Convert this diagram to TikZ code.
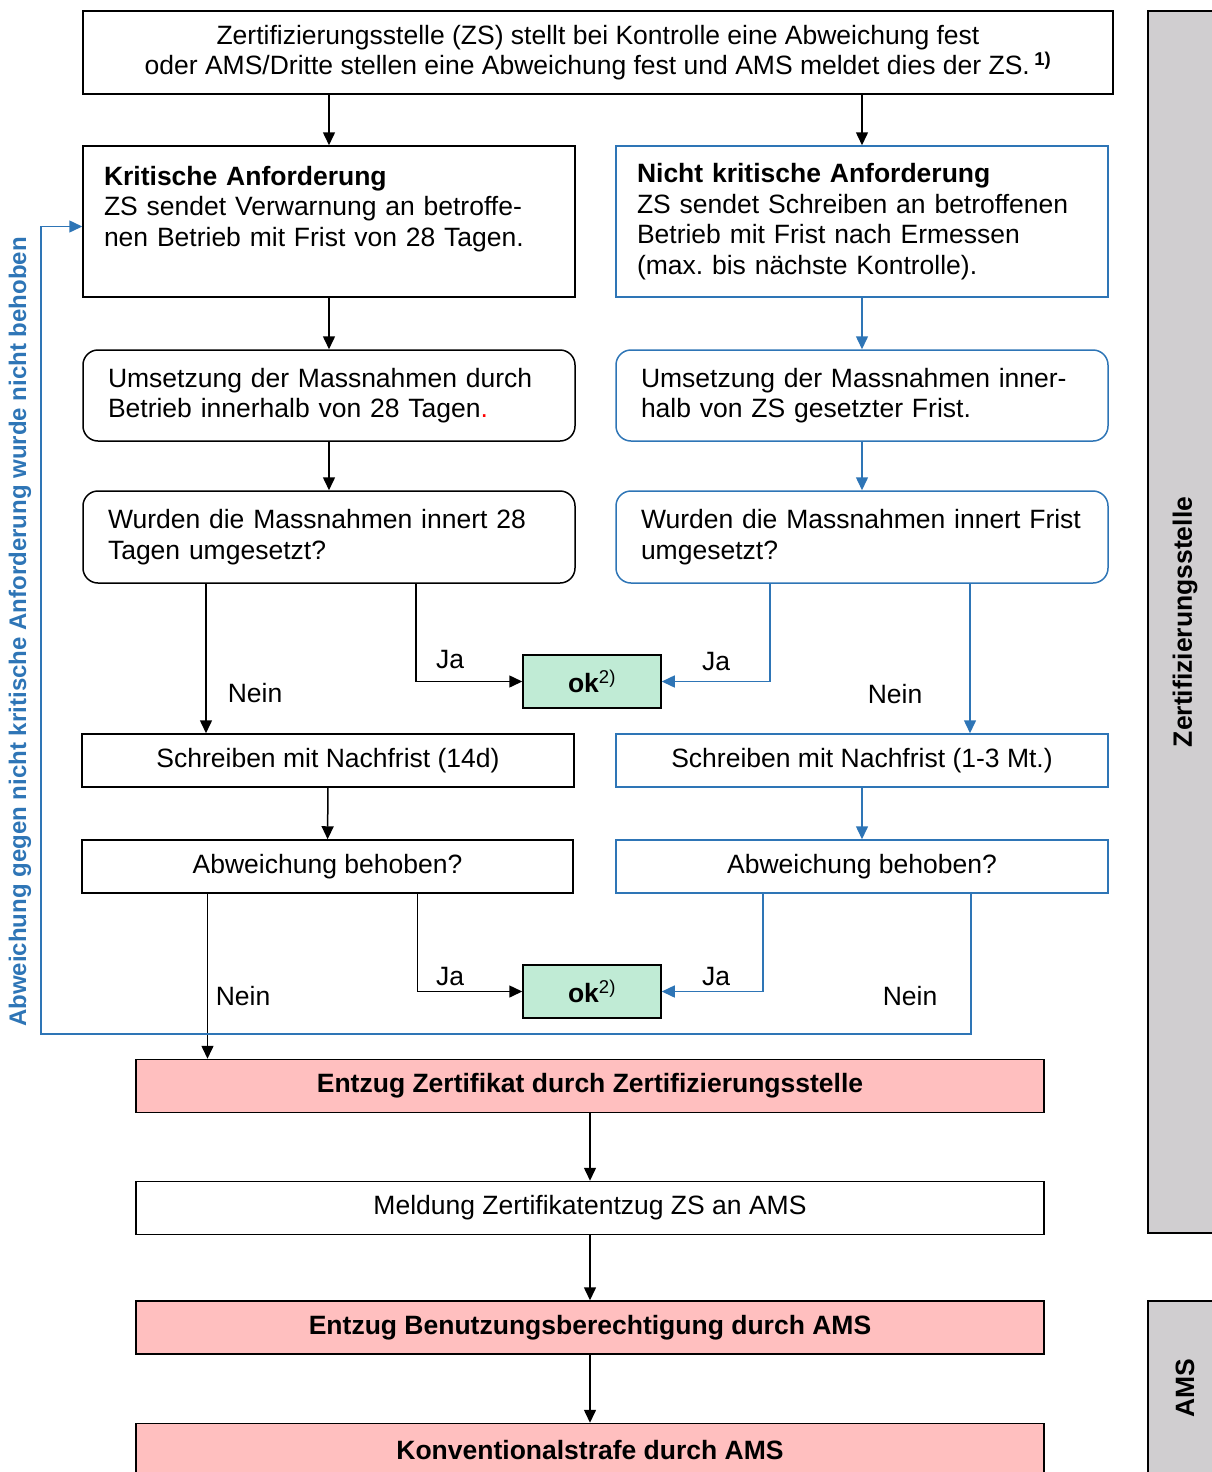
\documentclass[tikz,border=0pt]{standalone}
\usepackage{fontspec}
\setmainfont{Liberation Sans}
\usepackage{xcolor}
\usetikzlibrary{arrows.meta}
\definecolor{BlueZS}{HTML}{2E75B6}
\definecolor{GreenOK}{HTML}{C0EBD5}
\definecolor{RedAMS}{HTML}{FFBFBF}
\definecolor{GrayBar}{HTML}{D0CED0}
\newcommand\nodetop{Zertifizierungsstelle (ZS) stellt bei Kontrolle eine Abweichung fest\\oder AMS/Dritte stellen eine Abweichung fest und AMS meldet dies der ZS.\,\textsuperscript{\textbf{1)}}}
\newcommand\nodekrit{\textbf{Kritische Anforderung}\\ZS sendet Verwarnung an betroffe-\\nen Betrieb mit Frist von 28 Tagen.\\\mbox{}}
\newcommand\nodenkrit{\textbf{Nicht kritische Anforderung}\\ZS sendet Schreiben an betroffenen\\Betrieb mit Frist nach Ermessen\\(max.\ bis nächste Kontrolle).}
\newcommand\nodeumsl{Umsetzung der Massnahmen durch\\Betrieb innerhalb von 28 Tagen\textcolor{red}{.}}
\newcommand\nodeumsr{Umsetzung der Massnahmen inner-\\halb von ZS gesetzter Frist.}
\newcommand\nodefragl{Wurden die Massnahmen innert 28\\Tagen umgesetzt?}
\newcommand\nodefragr{Wurden die Massnahmen innert Frist\\umgesetzt?}
\newcommand\nodeokay{\textbf{ok}\textsuperscript{2)}}
\newcommand\nodenfl{Schreiben mit Nachfrist (14d)}
\newcommand\nodenfr{Schreiben mit Nachfrist (1-3 Mt.)}
\newcommand\nodeabw{Abweichung behoben?}
\newcommand\nodeentz{Entzug Zertifikat durch Zertifizierungsstelle}
\newcommand\nodemeld{Meldung Zertifikatentzug ZS an AMS}
\newcommand\nodeentb{Entzug Benutzungsberechtigung durch AMS}
\newcommand\nodekonv{Konventionalstrafe durch AMS}
\newcommand\nodeback{Abweichung gegen nicht kritische Anforderung wurde nicht behoben}
\tikzstyle{mynodestyle} = [rectangle, inner sep=0pt, text=black, font=\fontsize{26.5}{30.5}\selectfont]
\tikzstyle{kn} = [mynodestyle, draw=black]
\tikzstyle{bn} = [mynodestyle, draw=BlueZS]
\tikzstyle{big} = [minimum width=492pt, minimum height=151pt, text width=450pt, align=left]
\tikzstyle{mid} = [minimum width=492pt, minimum height=91pt, text width=442pt, align=left, rounded corners=15pt]
\tikzstyle{low} = [minimum width=492pt, minimum height=53pt, align=center]
\tikzstyle{okn} = [mynodestyle, draw=black, fill=GreenOK, minimum width=138pt, minimum height=53pt]
\tikzstyle{rn} = [mynodestyle, draw=black, fill=RedAMS, minimum width=908pt, minimum height=53pt, font=\fontsize{26.5}{30.5}\selectfont\bfseries]
\tikzstyle{lbl} = [inner sep=0pt, font=\fontsize{26.5}{30.5}\selectfont]
\tikzset{>={Triangle[length=13pt,width=12pt]}, every picture/.style={line width=1.5pt}}

\begin{document}
\begin{tikzpicture}[x=1pt, y=-1pt]
\useasboundingbox (0,0) rectangle (1212,1472);
\clip (0,0) rectangle (1212,1472);
% side bars
\draw[fill=GrayBar] (1148,11) rectangle (1240,1233);
\draw[fill=GrayBar] (1148,1301) rectangle (1240,1500);
\node[lbl, rotate=90, font=\fontsize{26.5}{30.5}\selectfont\bfseries] (zsbar) at (1185,622) {Zertifizierungsstelle};
\node[lbl, rotate=90, font=\fontsize{26.5}{30.5}\selectfont\bfseries] (amsbar) at (1185,1388) {AMS};
% boxes
\node[kn, minimum width=1030pt, minimum height=83pt, align=center] (top) at (598,52.5) {\nodetop};
\node[kn, big] (krit) at (329,221.5) {\nodekrit};
\node[bn, big] (nkrit) at (862,221.5) {\nodenkrit};
\node[kn, mid] (umsl) at (329,395.5) {\nodeumsl};
\node[bn, mid] (umsr) at (862,395.5) {\nodeumsr};
\node[kn, mid, minimum height=92pt] (fragl) at (329,537) {\nodefragl};
\node[bn, mid, minimum height=92pt] (fragr) at (862,537) {\nodefragr};
\node[okn] (ok1) at (592,681.5) {\nodeokay};
\node[kn, low] (nfl) at (328,760.5) {\nodenfl};
\node[bn, low] (nfr) at (862,760.5) {\nodenfr};
\node[kn, low, minimum width=491pt] (abwl) at (327.5,866.5) {\nodeabw};
\node[bn, low] (abwr) at (862,866.5) {\nodeabw};
\node[okn] (ok2) at (592,991.5) {\nodeokay};
\node[rn] (entz) at (590,1086) {\nodeentz};
\node[kn, minimum width=908pt, minimum height=53pt] (meld) at (590,1208) {\nodemeld};
\node[rn] (entb) at (590,1327.5) {\nodeentb};
\node[rn] (konv) at (590,1450) {\nodekonv};
\node[lbl, rotate=90, text=BlueZS, font=\fontsize{24}{28}\selectfont\bfseries] (backlbl) at (20,632) {\nodeback};
\coordinate (back) at (41,1034);
% labels
\node[lbl] (ja1) at (450,660) {Ja};
\node[lbl] (nein1) at (255,693) {Nein};
\node[lbl] (ja2) at (716,662) {Ja};
\node[lbl] (nein2) at (895,694) {Nein};
\node[lbl] (ja3) at (450,977) {Ja};
\node[lbl] (nein3) at (243,996) {Nein};
\node[lbl] (ja4) at (716,977) {Ja};
\node[lbl] (nein4) at (910,996) {Nein};
% arrows
\draw [->] (top.south -| krit.north) -- (krit.north);
\draw [->] (top.south -| nkrit.north) -- (nkrit.north);
\draw [->] (krit) -- (umsl);
\draw [->, BlueZS] (nkrit) -- (umsr);
\draw [->] (umsl) -- (fragl);
\draw [->, BlueZS] (umsr) -- (fragr);
\draw [->] ([xshift=-123pt]fragl.south) -- ([xshift=-123pt]fragl.south |- nfl.north);
\draw [->] ([xshift=87pt]fragl.south) |- (ok1.west);
\draw [->, BlueZS] ([xshift=-92pt]fragr.south) |- (ok1.east);
\draw [->, BlueZS] ([xshift=108pt]fragr.south) -- ([xshift=108pt]fragr.south |- nfr.north);
\draw [->] (nfl) -- (abwl);
\draw [->, BlueZS] (nfr) -- (abwr);
\draw [->] ([xshift=-120pt]abwl.south) -- ([xshift=-120pt]abwl.south |- entz.north);
\draw [->] ([xshift=90pt]abwl.south) |- (ok2.west);
\draw [->, BlueZS] ([xshift=-99pt]abwr.south) |- (ok2.east);
\draw [->, BlueZS] ([xshift=109pt]abwr.south) |- (back) |- ([yshift=-5pt]krit.west);
\draw [->] (entz) -- (meld);
\draw [->] (meld) -- (entb);
\draw [->] (entb) -- (konv);
\end{tikzpicture}
\end{document}
